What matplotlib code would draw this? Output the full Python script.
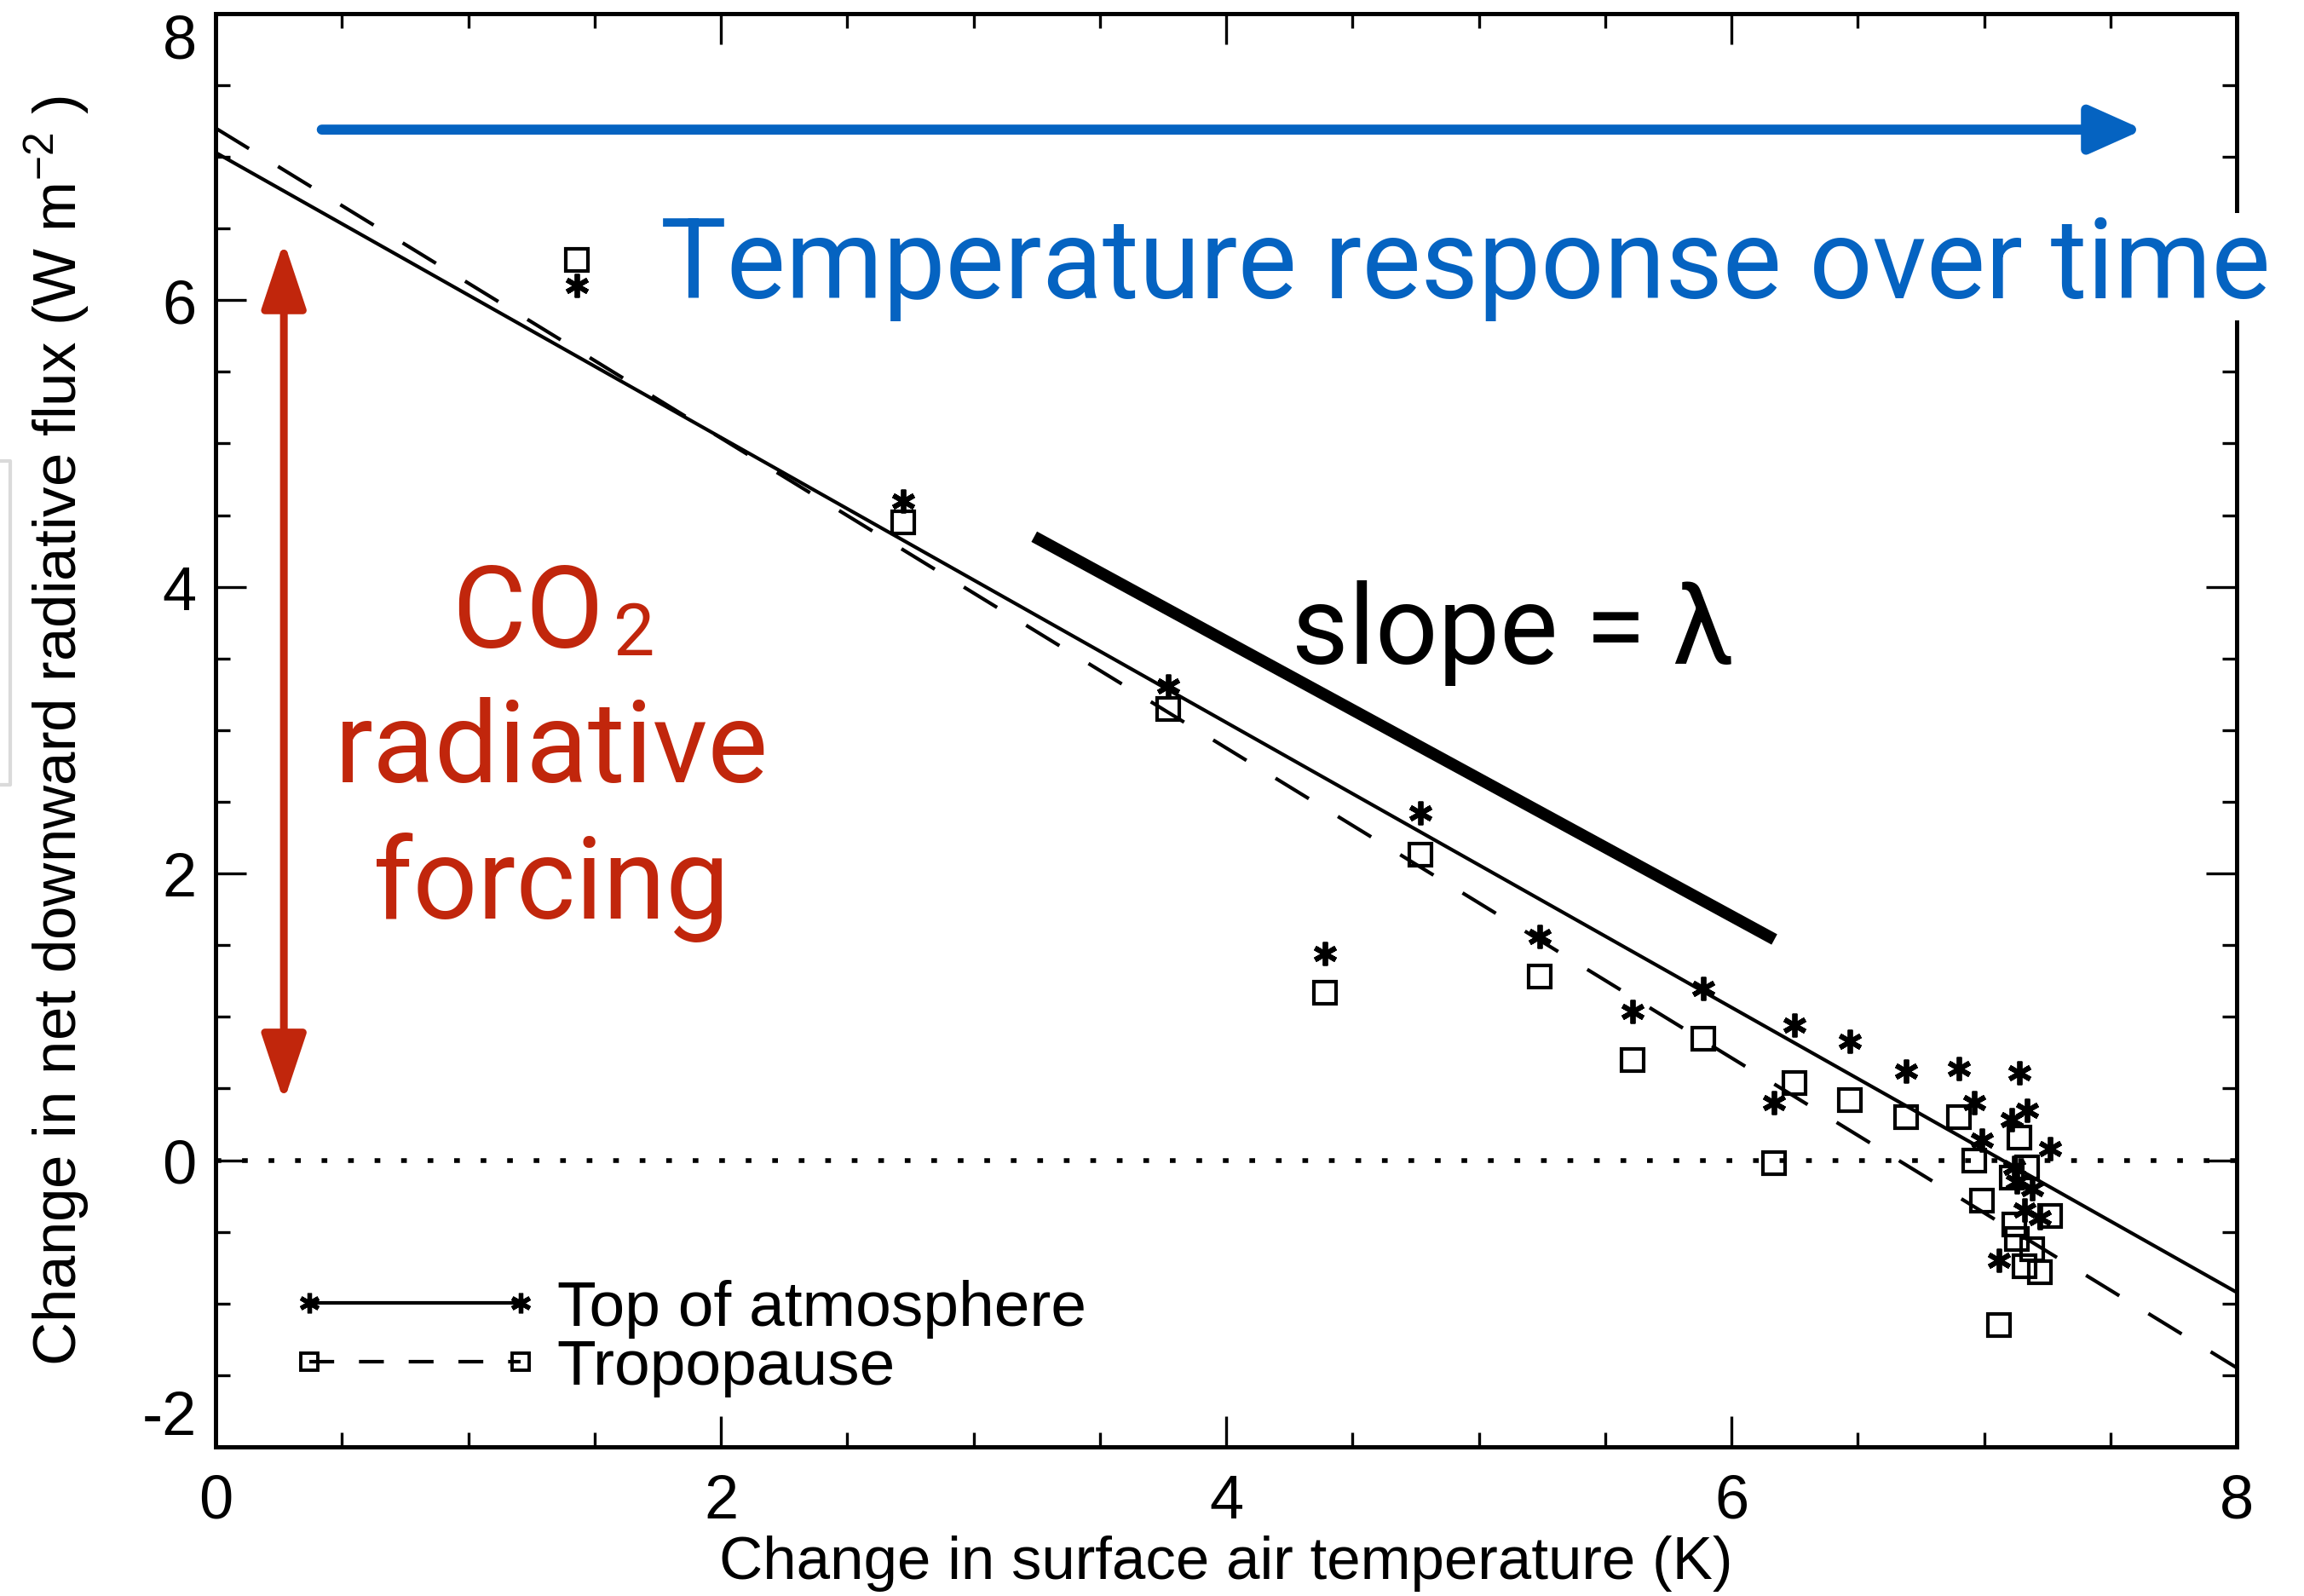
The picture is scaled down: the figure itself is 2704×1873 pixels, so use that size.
import matplotlib
matplotlib.use('Agg')
import matplotlib.pyplot as plt
from matplotlib import font_manager
from matplotlib.lines import Line2D
from matplotlib.ticker import MultipleLocator


def pick_font(names):
    # use the first family that is really installed
    for name in names:
        try:
            font_manager.findfont(font_manager.FontProperties(family=name), fallback_to_default=False)
            return name
        except ValueError:
            pass
    return 'DejaVu Sans'


narrow = pick_font(['Liberation Sans Narrow', 'Liberation Sans'])
light = pick_font(['Roboto', 'Lato', 'Open Sans'])

# surface warming (K) and flux change (W m-2) for each sample in time
temp = [1.43, 2.72, 3.77, 4.39, 4.77, 5.24, 5.61, 5.89, 6.17, 6.25, 6.47, 6.69, 6.90,
        6.96, 6.99, 7.14, 7.17, 7.11, 7.26, 7.13, 7.16, 7.22, 7.06, 7.12, 7.19]
toa = [6.10, 4.60, 3.31, 1.44, 2.42, 1.56, 1.04, 1.20, 0.40, 0.94, 0.83, 0.62, 0.64,
       0.40, 0.14, 0.61, 0.35, 0.28, 0.08, -0.15, -0.35, -0.40, -0.70, -0.05, -0.20]
trop = [6.28, 4.45, 3.15, 1.17, 2.13, 1.28, 0.70, 0.85, -0.02, 0.54, 0.42, 0.30, 0.30,
        0.00, -0.28, 0.16, -0.05, -0.12, -0.39, -0.55, -0.74, -0.78, -1.15, -0.45, -0.62]

# regression lines (intercept, slope)
toa_fit = (7.03, -0.994)
trop_fit = (7.20, -1.081)
fit_x = [0, 8]

x_ticks = [0, 2, 4, 6, 8]
y_ticks = [-2, 0, 2, 4, 6, 8]

red = '#C1260C'
blue = '#0563C1'
ann_font = [light, 'DejaVu Sans']

plt.rcParams['font.family'] = [narrow, 'DejaVu Sans']
plt.rcParams['axes.unicode_minus'] = False
plt.rcParams['mathtext.fontset'] = 'custom'
plt.rcParams['mathtext.rm'] = narrow
plt.rcParams['mathtext.it'] = narrow
plt.rcParams['mathtext.bf'] = narrow

fig = plt.figure(figsize=(27.04, 18.74), dpi=100)
ax = fig.add_axes([0.0936, 0.0934, 0.8772, 0.8976])

star = (6, 2, 0)
ax.plot(temp, toa, ls='none', marker=star, ms=20, mew=4.2, color='black', zorder=3)
ax.plot(temp, trop, ls='none', marker='s', ms=19, mew=3.0, mfc='none', color='black', zorder=3)

fit_toa = [toa_fit[0] + toa_fit[1] * x for x in fit_x]
fit_trop = [trop_fit[0] + trop_fit[1] * x for x in fit_x]
ax.plot(fit_x, fit_toa, color='black', lw=3)
ax.plot(fit_x, fit_trop, color='black', lw=3, dashes=(11, 9.6))
ax.axhline(0, color='black', lw=4, dashes=(1.2, 4.4))

ax.set_xlim(0, 8)
ax.set_ylim(-2, 8)
ax.set_xticks(x_ticks)
ax.set_yticks(y_ticks)
ax.xaxis.set_minor_locator(MultipleLocator(0.5))
ax.yaxis.set_minor_locator(MultipleLocator(0.5))
ax.tick_params(which='both', direction='in', top=True, right=True, width=2.4, labelsize=52)
ax.tick_params(which='major', length=26)
ax.tick_params(which='minor', length=12)
ax.tick_params(axis='x', pad=22)
ax.tick_params(axis='y', pad=16)
for s in ax.spines.values():
    s.set_linewidth(3.6)

# end labels sit inside the axis range, as in the original plot
ylabels = ax.get_yticklabels()
ylabels[0].set_va('bottom')
ylabels[-1].set_va('top')

ax.set_xlabel('Change in surface air temperature (K)', fontsize=51, va='top')
ax.xaxis.set_label_coords(0.5, -0.061)
ax.set_ylabel('Change in net downward radiative flux (W m$^{-2}$ )', fontsize=51)
ax.yaxis.set_label_coords(-0.0618, 0.5)

# legend in the IDL style: marker at both ends of the line
h1 = Line2D([], [], color='black', lw=3, marker=star, ms=17, mew=3.8)
h2 = Line2D([], [], color='black', lw=3, dashes=(7, 7), marker='s', ms=15, mew=2.8, mfc='none')
ax.legend([h1, h2], ['Top of atmosphere', 'Tropopause'], loc='lower left',
          bbox_to_anchor=(0.037, 0.035), frameon=False, fontsize=54, numpoints=2,
          handlelength=3.9, handletextpad=0.27, labelspacing=0.0, borderpad=0, borderaxespad=0)

# annotations added over the figure
ax.annotate('', xy=(7.63, 7.19), xytext=(0.42, 7.19),
            arrowprops=dict(arrowstyle='-|>,head_length=38,head_width=17', mutation_scale=1,
                            color=blue, lw=8.5, shrinkA=0, shrinkB=0))
ax.text(1.76, 6.02, 'Temperature response over time', color=blue, fontsize=94,
        family=ann_font, va='baseline', ha='left', zorder=5,
        bbox=dict(facecolor='white', edgecolor='none', pad=0))

ax.annotate('', xy=(0.27, 6.41), xytext=(0.27, 0.41),
            arrowprops=dict(arrowstyle='<|-|>,head_length=48,head_width=16', mutation_scale=1,
                            color=red, lw=6.5, shrinkA=0, shrinkB=0))
ax.text(0.935, 3.58, 'CO', color=red, fontsize=96, family=ann_font,
        va='baseline', ha='left')
ax.text(1.575, 3.53, '2', color=red, fontsize=62, family=ann_font,
        va='baseline', ha='left')
ax.text(1.33, 2.64, 'radiative', color=red, fontsize=96, family=ann_font,
        va='baseline', ha='center')
ax.text(1.33, 1.69, 'forcing', color=red, fontsize=96, family=ann_font,
        va='baseline', ha='center')

ax.plot([3.24, 6.17], [4.35, 1.54], color='black', lw=10, solid_capstyle='butt')
ax.text(4.26, 3.47, 'slope = λ', color='black', fontsize=93, family=ann_font,
        va='baseline', ha='left')

# faint grey edge left over from the pasted slide, at the far left
fig.add_artist(Line2D([0.0, 0.0045, 0.0045, 0.0], [0.711, 0.711, 0.508, 0.508],
                      color='#dadada', lw=3))

fig.savefig('out.png', dpi=100)
